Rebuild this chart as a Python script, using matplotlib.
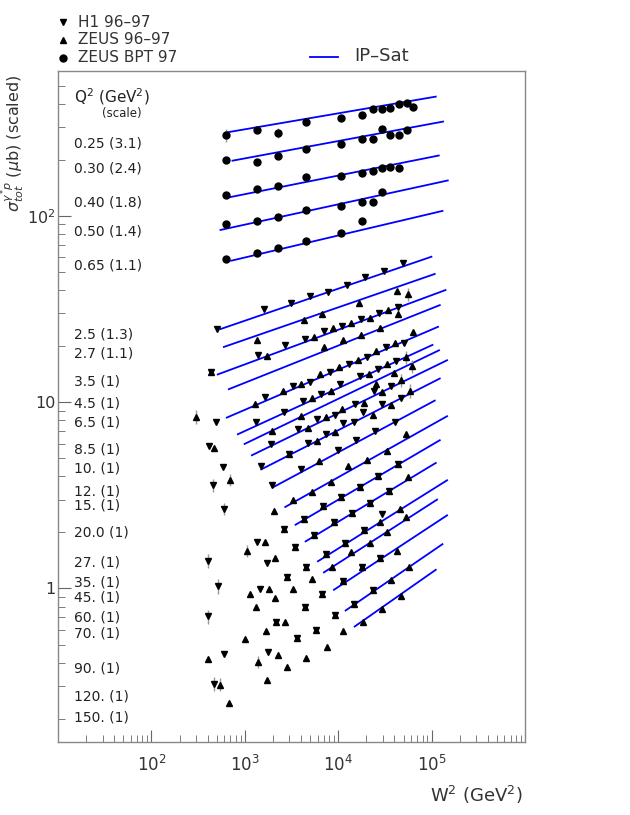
import matplotlib
matplotlib.use('Agg')
import matplotlib.pyplot as plt
from matplotlib.lines import Line2D
from matplotlib.ticker import FixedLocator, FixedFormatter, LogLocator, NullFormatter
import numpy as np

# ---- ZEUS BPT 97 (circles), one list per low Q2 bin ----
bpt_w2 = [
    [632, 1358, 2259, 4475, 10800, 17950, 23380, 29700, 36150, 44760, 54080, 63200],
    [632, 1358, 2259, 4475, 10800, 17950, 23380, 29700, 36150, 44760, 54080],
    [632, 1358, 2259, 4475, 10800, 17950, 23380, 29700, 36150, 44760],
    [632, 1358, 2259, 4475, 10800, 17950, 23380, 29700],
    [632, 1358, 2259, 4475, 10800, 17950],
]
bpt_sig = [
    [272, 290, 279, 319, 335, 349, 373, 376, 382, 397, 402, 385],
    [199, 194, 209, 230, 243, 258, 260, 292, 271, 271, 290],
    [130, 140, 144.5, 162, 163, 170, 175, 180, 182, 180],
    [90.9, 94.3, 98.8, 108, 113, 119, 118.5, 134],
    [58.9, 63.0, 67.3, 73.6, 81.3, 94.3],
]

# ---- H1 96-97 (down triangles) ----
h1_w2 = [498, 1586, 3141, 4937, 7756, 12390, 19190, 30900, 49350,
         4365, 6976, 10960, 17510, 27100, 43650, 2684, 1392, 434,
         1626, 3268, 5023, 8091, 13020, 20300, 32450, 50230,
         1325, 2618, 4184, 6590, 10530, 16960, 26640, 41950,
         1885, 3698, 5911, 9142, 23950, 37070,
         4735, 7455, 11230, 14990, 29700, 46670,
         1473, 3954, 9926, 18390, 40230, 14620, 24550, 15370,
         1967, 29700, 1345, 1721, 1437, 2170, 596, 1764, 473,
         5725, 16960, 14620,
         491, 413, 591, 451, 598, 401, 516, 401]
h1_sig = [24.7, 31.6, 34.2, 37.2, 39.2, 42.7, 47.2, 50.8, 55.7,
          21.8, 24.2, 25.6, 27.9, 30.0, 32.5, 20.3, 18.0, 14.6,
          10.7, 12.2, 12.9, 14.6, 16.0, 17.5, 19.8, 20.8,
          7.83, 8.81, 10.1, 11.1, 12.5, 13.8, 15.1, 16.6,
          6.0, 7.16, 8.17, 8.59, 11.5, 12.2,
          6.07, 6.79, 7.69, 9.76, 9.84, 10.5,
          4.53, 4.40, 5.57, 8.87, 7.83, 7.83, 7.01, 6.25,
          3.61, 2.50, 1.77, 1.37, 0.997, 0.659, 0.446, 0.455, 0.308,
          0.600, 3.52, 0.828,
          7.83, 5.82, 4.49, 3.58, 2.68, 1.41, 1.03, 0.708]

# ---- ZEUS 96-97 (up triangles) ----
zeus_w2 = [1345, 4256, 6687, 16670, 42560, 55850, 5489, 8773, 13820, 21710,
           34090, 44060, 1738, 7096, 11230, 17680, 27780, 63200,
           1293, 2555, 3983, 6321, 10170, 16260, 25600, 40230, 52760, 61650,
           1967, 3954, 5224, 8287, 21180, 33590, 39250, 47430, 25160, 29700,
           59270, 4735, 7455, 11070, 5911, 9142, 18710, 37070, 23550, 53700,
           6209, 8433, 3301, 5277, 2031, 1626, 1056, 8600, 2081, 3245,
           5277, 2118, 1795, 1137, 1318, 2150, 2697, 1695, 1009,
           33270, 12700, 20510, 55850, 45540, 28120, 53700, 33270, 21710,
           13820, 42560, 56820, 37070, 46670, 29540, 18390, 11280, 7511,
           408, 1368, 2258, 4506, 2833, 542, 1709, 681, 301, 465, 694,
           434, 5725, 16960, 14620]
zeus_sig = [21.7, 27.6, 29.7, 33.9, 39.7, 37.9, 22.3, 25.1, 26.7, 28.4,
            31.2, 29.6, 17.6, 19.8, 21.7, 22.9, 25.1, 23.9,
            9.84, 11.5, 12.6, 14.1, 15.5, 16.8, 18.8, 20.7, 17.4, 15.6,
            6.98, 8.48, 10.6, 11.5, 14.1, 16.0, 14.4, 13.1, 12.5, 11.4,
            11.5, 7.31, 8.34, 9.17, 6.19, 6.92, 9.96, 9.72, 8.51, 6.73,
            4.84, 3.73, 3.00, 3.30, 2.62, 1.77, 1.59, 1.30, 1.45, 0.99,
            1.13, 0.889, 0.997, 0.94, 0.80, 0.659, 0.659, 0.595, 0.537,
            5.47, 4.53, 4.92, 3.97, 2.68, 2.28, 2.42, 2.01, 1.75,
            1.57, 1.58, 1.30, 1.11, 0.917, 0.778, 0.659, 0.595, 0.488,
            0.418, 0.405, 0.440, 0.424, 0.381, 0.305, 0.321, 0.242, 8.34, 5.66, 3.84,
            14.6, 0.600, 3.52, 0.828]

# points where H1 and ZEUS overlap (drawn with both markers)
both_w2 = [2962, 10800, 4290, 6855, 2618, 5489, 8927, 3409, 7455, 11910,
           4474, 2847, 6752, 4365, 9142, 3608, 26640, 43650, 34670, 22080,
           14030, 18710, 28270, 17810, 11230, 23550]
both_sig = [5.30, 3.11, 2.35, 2.76, 2.08, 1.93, 2.27, 1.67, 1.54, 1.75,
            1.31, 1.15, 0.937, 0.794, 0.720, 0.545, 4.00, 4.68, 3.34, 2.87,
            2.54, 2.05, 1.46, 1.30, 1.10, 0.984]

# visible error bars (W2, sigma, half length)
err_w2 = [301, 451, 694, 598, 401, 516, 401, 473, 542, 1056, 632, 55850,
          52760, 61650, 59270, 47430, 1385, 2259]
err_sig = [8.34, 3.58, 3.84, 2.68, 1.41, 1.03, 0.708, 0.308, 0.305, 1.59, 272, 37.9,
           17.4, 15.6, 11.5, 13.1, 0.405, 279]
err_half = [0.7, 0.3, 0.3, 0.2, 0.12, 0.09, 0.06, 0.025, 0.025, 0.12, 22, 3.0,
            1.4, 1.3, 1.0, 1.1, 0.03, 18]

# ---- IP-Sat curves: end points (W2, sigma) per Q2 bin ----
ipsat_w2 = [(632, 110700), (738, 132500), (653, 119200), (549, 148800), (715, 130600),
            (549, 99500), (596, 107900), (513, 140600), (674, 122200), (641, 117100),
            (841, 102000), (993, 120000), (1189, 146300), (1500, 122200), (1995, 107900),
            (2710, 146300), (3494, 122200), (4474, 110700), (6060, 146300), (7025, 114300),
            (8990, 146300), (12000, 130600), (15000, 110700)]
ipsat_sig = [(280.5, 437), (198, 321), (125.4, 211), (84.1, 155), (57.5, 106.4),
             (24.7, 60.4), (19.8, 48.8), (14.1, 40.0), (11.75, 33.2), (8.27, 25.4),
             (6.73, 20.3), (5.97, 19.0), (5.19, 16.8), (4.36, 13.4), (3.49, 10.2),
             (2.74, 8.41), (2.20, 6.25), (1.79, 4.72), (1.40, 3.81), (1.22, 3.0),
             (0.984, 2.47), (0.762, 1.73), (0.625, 1.26)]

q2_labels = ['0.25 (3.1)', '0.30 (2.4)', '0.40 (1.8)', '0.50 (1.4)', '0.65 (1.1)',
             '2.5 (1.3)', '2.7 (1.1)', '3.5 (1)', '4.5 (1)', '6.5 (1)', '8.5 (1)',
             '10. (1)', '12. (1)', '15. (1)', '20.0 (1)', '27. (1)', '35. (1)',
             '45. (1)', '60. (1)', '70. (1)', '90. (1)', '120. (1)', '150. (1)']
label_ypos = [0.892, 0.855, 0.804, 0.7615, 0.710, 0.6066, 0.5797, 0.5365, 0.5037,
              0.4754, 0.4352, 0.4083, 0.3726, 0.3517, 0.3115, 0.2668, 0.237,
              0.2146, 0.1848, 0.161, 0.1088, 0.0671, 0.0358]

fig = plt.figure(figsize=(6.30, 8.15), dpi=100)
ax = fig.add_axes([0.0921, 0.0896, 0.7413, 0.8233])
ax.set_xscale('log')
ax.set_yscale('log')
ax.set_xlim(10, 1e6)
ax.set_ylim(0.15, 600)

for w, s in zip(ipsat_w2, ipsat_sig):
    ax.plot(w, s, color='#0000ff', lw=1.3, zorder=2)

ax.errorbar(err_w2, err_sig, yerr=err_half, fmt='none', ecolor='#999999',
            elinewidth=1.0, capsize=0, zorder=2.5)

for w, s in zip(bpt_w2, bpt_sig):
    ax.plot(w, s, 'o', color='black', ms=5, zorder=3)

ax.plot(h1_w2, h1_sig, 'v', color='black', ms=5, zorder=3)
ax.plot(zeus_w2, zeus_sig, '^', color='black', ms=5, zorder=3)
ax.plot(both_w2, both_sig, 'v', color='black', ms=5, zorder=3)
ax.plot(both_w2, both_sig, '^', color='black', ms=5, zorder=3)

for lab, yp in zip(q2_labels, label_ypos):
    ax.text(0.034, yp, lab, transform=ax.transAxes, fontsize=10,
            va='center', ha='left', color='#222222')
ax.text(0.034, 0.962, r'Q$^2$ (GeV$^2$)', transform=ax.transAxes, fontsize=11,
        va='center', ha='left', color='#222222')
ax.text(0.094, 0.936, '(scale)', transform=ax.transAxes, fontsize=8.5,
        va='center', ha='left', color='#222222')

# axes styling
for sp in ax.spines.values():
    sp.set_color('#888888')
    sp.set_linewidth(1.0)
ax.tick_params(which='both', direction='in', top=False, right=False,
               colors='#666666', labelcolor='#333333')
ax.tick_params(which='major', length=9, labelsize=12)
ax.tick_params(which='minor', length=5)
ax.xaxis.set_major_locator(FixedLocator([1e2, 1e3, 1e4, 1e5]))
ax.xaxis.set_major_formatter(FixedFormatter([r'$10^{2}$', r'$10^{3}$', r'$10^{4}$', r'$10^{5}$']))
ax.xaxis.set_minor_locator(LogLocator(base=10, subs=np.arange(2, 10), numticks=20))
ax.xaxis.set_minor_formatter(NullFormatter())
ax.yaxis.set_major_locator(FixedLocator([1, 10, 100]))
ax.yaxis.set_major_formatter(FixedFormatter(['1', '10', r'$10^{2}$']))
ax.yaxis.set_minor_locator(LogLocator(base=10, subs=np.arange(2, 10), numticks=20))
ax.yaxis.set_minor_formatter(NullFormatter())
ax.tick_params(axis='x', pad=9)
ax.tick_params(axis='y', pad=2, labelsize=11.5)

fig.text(0.83, 0.025, r'W$^2$ (GeV$^2$)', fontsize=13, ha='right', va='center', color='#333333')
fig.text(0.022, 0.908, r'$\sigma^{\gamma^{*}p}_{tot}$ ($\mu$b) (scaled)', fontsize=11.5,
         rotation=90, ha='center', va='top', color='#333333')

# legend drawn outside the frame
leg_marks = ['v', '^', 'o']
leg_names = ['H1 96–97', 'ZEUS 96–97', 'ZEUS BPT 97']
leg_y = [0.973, 0.951, 0.929]
for m, n, yy in zip(leg_marks, leg_names, leg_y):
    fig.add_artist(Line2D([0.1], [yy], marker=m, color='black', ms=5,
                          linestyle='none', transform=fig.transFigure))
    fig.text(0.124, yy, n, fontsize=11, va='center', ha='left', color='#333333')
fig.add_artist(Line2D([0.492, 0.537], [0.930, 0.930], color='#0000ff', lw=1.3,
                      transform=fig.transFigure))
fig.text(0.563, 0.931, 'IP–Sat', fontsize=13, va='center', ha='left', color='#333333')

fig.savefig('out.png', dpi=100)
